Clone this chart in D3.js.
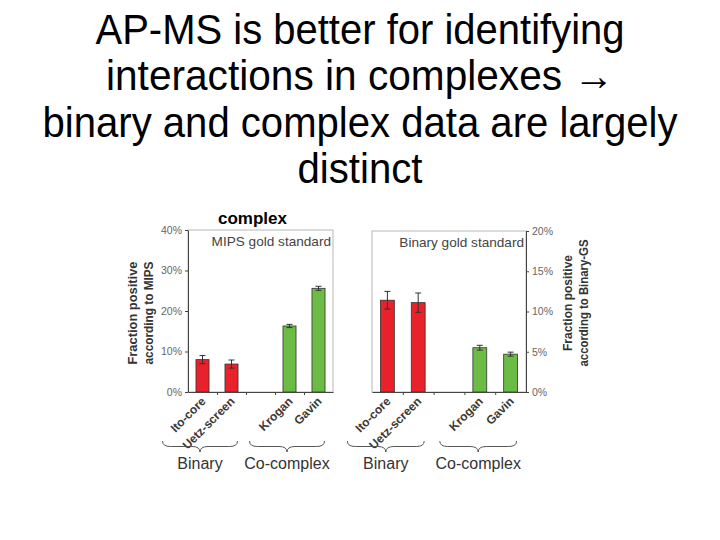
<!DOCTYPE html>
<html><head><meta charset="utf-8">
<script src="https://cdn.jsdelivr.net/npm/d3@7"></script>
<style>body{margin:0;background:#fff} svg{display:block} text{font-family:"Liberation Sans",Arial,sans-serif}</style>
</head><body>
<svg id="c" width="720" height="540"></svg>
<script>
const titleLines = ["AP-MS is better for identifying", "interactions in complexes \u2192", "binary and complex data are largely", "distinct"];
const slots = ["Ito-core", "Uetz-screen", "gap", "Krogan", "Gavin"];
const categories = ["Ito-core", "Uetz-screen", "Krogan", "Gavin"];
const groupOf = ["Binary", "Binary", "Co-complex", "Co-complex"];
const groups = ["Binary", "Co-complex"];
const mipsValues = [8.0, 6.9, 16.3, 25.6];
const mipsErrors = [1.0, 1.0, 0.4, 0.5];
const binaryGSValues = [11.4, 11.1, 5.5, 4.7];
const binaryGSErrors = [1.1, 1.2, 0.3, 0.25];
const mipsTicks = [0, 10, 20, 30, 40];
const binaryGSTicks = [0, 5, 10, 15, 20];
const groupColors = {"Binary": "#e8212a", "Co-complex": "#6cbb45"};

const svg = d3.select("#c");

// Title
const titleWidths = [529, 508, 635, 125];
const titleBase = [43.5, 90, 136.5, 183];
titleLines.forEach((t, i) => {
  svg.append("text").attr("x", 360).attr("y", titleBase[i])
    .attr("text-anchor", "middle").attr("font-size", 42).attr("fill", "#000")
    .attr("textLength", titleWidths[i]).attr("lengthAdjust", "spacingAndGlyphs")
    .text(t);
});

svg.append("text").attr("x", 252.5).attr("y", 224).attr("text-anchor", "middle")
  .attr("font-size", 17).attr("font-weight", "bold").attr("fill", "#000").text("complex");

function panel(o) {
  const g = svg.append("g");
  const x = d3.scaleBand().domain(slots).range([o.x0, o.x1]).paddingInner(0.55).paddingOuter(0.275);
  const xl = d3.scaleLinear().domain([0, slots.length]).range([o.x0, o.x1]);
  const y = d3.scaleLinear().domain([0, o.max]).range([o.yBot, o.yTop]);
  // frame
  g.append("rect").attr("x", o.x0).attr("y", o.yTop).attr("width", o.x1 - o.x0).attr("height", o.yBot - o.yTop)
    .attr("fill", "none").attr("stroke", "#b8b8b8").attr("stroke-width", 1);
  // bars
  categories.forEach((c, i) => {
    const v = o.vals[i], e = o.errs[i];
    const cx = x(c) + x.bandwidth() / 2;
    g.append("rect").attr("x", x(c)).attr("y", y(v)).attr("width", x.bandwidth()).attr("height", y(0) - y(v))
      .attr("fill", groupColors[groupOf[i]]).attr("stroke", "#333").attr("stroke-width", 0.8);
    g.append("line").attr("x1", cx).attr("x2", cx).attr("y1", y(v + e)).attr("y2", y(v - e)).attr("stroke", "#333").attr("stroke-width", 1);
    [v + e, v - e].forEach(w => g.append("line").attr("x1", cx - 3).attr("x2", cx + 3).attr("y1", y(w)).attr("y2", y(w)).attr("stroke", "#333").attr("stroke-width", 1));
    g.append("text").attr("transform", `translate(${cx + 4},${o.yBot + 10}) rotate(-45)`)
      .attr("text-anchor", "end").attr("font-size", 12).attr("font-weight", "bold").attr("fill", "#3a3a3a").text(c);
  });
  // x axis
  const xa = g.append("g").attr("transform", `translate(0,${o.yBot})`)
    .call(d3.axisBottom(xl).tickValues([1, 2, 3, 4]).tickSize(3).tickSizeOuter(0).tickFormat(""));
  xa.selectAll("path,line").attr("stroke", "#444");
  // y axis
  const ya = g.append("g").attr("transform", `translate(${o.side === "left" ? o.x0 : o.x1},0)`)
    .call((o.side === "left" ? d3.axisLeft(y) : d3.axisRight(y)).tickValues(o.ticks).tickSize(3).tickSizeOuter(0).tickFormat(d => d + "%"));
  ya.selectAll("path,line").attr("stroke", "#444");
  ya.selectAll("text").attr("font-size", 10.5).attr("fill", "#666").attr("font-family", "Liberation Sans, Arial, sans-serif");
  // standard label
  g.append("text").attr("x", o.x1 - 2).attr("y", o.yTop + 16).attr("text-anchor", "end")
    .attr("font-size", 13.6).attr("fill", "#444").text(o.std);
  // y labels
  o.ylab.forEach((t, i) => {
    g.append("text").attr("transform", `translate(${o.ylabX[i]},${o.ylabCY}) rotate(-90)`)
      .attr("text-anchor", "middle").attr("font-size", 13.5).attr("font-weight", "bold").attr("fill", "#333")
      .attr("textLength", o.ylabLen[i]).attr("lengthAdjust", "spacingAndGlyphs").text(t);
  });
  // braces + group labels
  groups.forEach(gr => {
    const members = categories.filter((c, i) => groupOf[i] === gr);
    const xa0 = x(members[0]) + x.bandwidth() / 2 - 40;
    const xb0 = x(members[members.length - 1]) + x.bandwidth() / 2 + 6;
    const xm = (xa0 + xb0) / 2, y0 = o.yBot + 49, h = 11, r = 8, ym = y0 + h / 2;
    g.append("path").attr("d",
      `M${xa0},${y0} Q${xa0},${ym} ${xa0 + r},${ym} L${xm - r},${ym} Q${xm},${ym} ${xm},${y0 + h} Q${xm},${ym} ${xm + r},${ym} L${xb0 - r},${ym} Q${xb0},${ym} ${xb0},${y0}`)
      .attr("fill", "none").attr("stroke", "#555").attr("stroke-width", 1);
    g.append("text").attr("x", xm).attr("y", o.yBot + 77).attr("text-anchor", "middle")
      .attr("font-size", 16).attr("fill", "#333").text(gr);
  });
}

panel({x0: 188, x1: 333, yTop: 230, yBot: 392, max: 40, vals: mipsValues, errs: mipsErrors, ticks: mipsTicks,
  side: "left", std: "MIPS gold standard", ylab: ["Fraction positive", "according to MIPS"], ylabX: [137, 153], ylabCY: 313, ylabLen: [103, 103]});
panel({x0: 372, x1: 526, yTop: 231, yBot: 392, max: 20, vals: binaryGSValues, errs: binaryGSErrors, ticks: binaryGSTicks,
  side: "right", std: "Binary gold standard", ylab: ["Fraction positive", "according to Binary-GS"], ylabX: [572, 588], ylabCY: 303, ylabLen: [96, 127]});
</script>
</body></html>
